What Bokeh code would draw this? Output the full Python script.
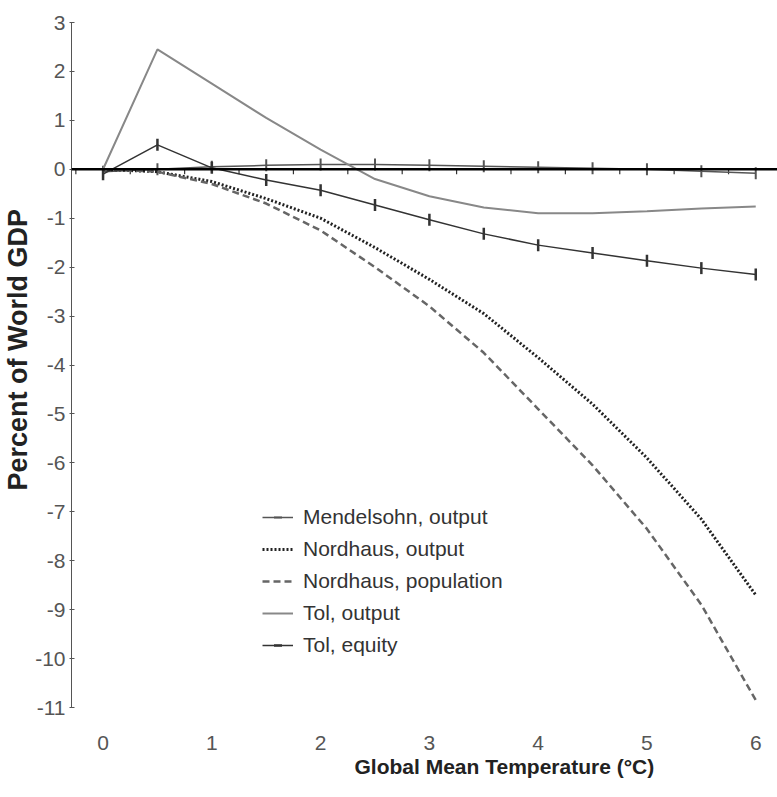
import math
from bokeh.plotting import figure
from bokeh.models import Span, Title, FixedTicker, Legend
from bokeh.embed import file_html
from bokeh.resources import INLINE

# Global mean temperature (°C)
temps = [0, 0.5, 1, 1.5, 2, 2.5, 3, 3.5, 4, 4.5, 5, 5.5, 6]

# Percent of world GDP
mendelsohn_output = [-0.05, 0.0, 0.05, 0.08, 0.1, 0.1, 0.08, 0.06, 0.04, 0.02, 0.0, -0.04, -0.08]
nordhaus_output = [0.0, -0.05, -0.25, -0.6, -1.0, -1.6, -2.25, -2.95, -3.85, -4.8, -5.9, -7.15, -8.7]
nordhaus_population = [0.0, -0.05, -0.3, -0.7, -1.25, -2.0, -2.8, -3.75, -4.9, -6.05, -7.35, -8.9, -10.85]
tol_output = [0.0, 2.45, 1.75, 1.05, 0.4, -0.2, -0.55, -0.78, -0.9, -0.9, -0.86, -0.8, -0.76]
tol_equity = [-0.1, 0.5, 0.03, -0.22, -0.43, -0.73, -1.03, -1.32, -1.55, -1.71, -1.87, -2.02, -2.15]

x_tick_labels = [0, 1, 2, 3, 4, 5, 6]
y_tick_values = list(range(-11, 4))

FONT = "Liberation Sans"

p = figure(
    frame_width=706, frame_height=685,
    x_range=(-0.29, 6.2), y_range=(-11, 3),
    output_backend="svg", toolbar_location=None,
    min_border_left=69, min_border_right=0, min_border_top=22, min_border_bottom=88,
    background_fill_color="white", border_fill_color="white",
)
p.outline_line_color = None
p.xgrid.visible = False
p.ygrid.visible = False

# x axis: labels only (axis line is drawn at zero)
p.xaxis.ticker = FixedTicker(ticks=x_tick_labels)
p.xaxis.axis_line_color = None
p.xaxis.major_tick_line_color = None
p.xaxis.minor_tick_line_color = None
p.xaxis.major_label_text_font = FONT
p.xaxis.major_label_text_font_size = "21px"
p.xaxis.major_label_text_color = "#555555"
p.xaxis.major_label_standoff = 22

# y axis
p.yaxis.ticker = FixedTicker(ticks=y_tick_values)
p.yaxis.major_label_overrides = {v: str(v) for v in y_tick_values}
p.yaxis.axis_line_color = "#555555"
p.yaxis.axis_line_width = 1
p.yaxis.major_tick_line_color = "#555555"
p.yaxis.major_tick_in = 3
p.yaxis.major_tick_out = 2
p.yaxis.minor_tick_line_color = None
p.yaxis.major_label_text_font = FONT
p.yaxis.major_label_text_font_size = "21px"
p.yaxis.major_label_text_color = "#555555"
p.yaxis.major_label_standoff = 4

# zero axis line with category ticks
p.add_layout(Span(location=0, dimension="width", line_color="black", line_width=2.5))
tick_pos = [t + 0.25 for t in temps[:-1]] + [temps[0] - 0.25]
p.segment(x0=tick_pos, y0=[0] * len(tick_pos), x1=tick_pos, y1=[-0.1] * len(tick_pos),
          line_color="#333333", line_width=1.2)

# series
r_m_line = p.line(temps, mendelsohn_output, line_color="#555555", line_width=1.5)
r_m_pts = p.scatter(temps, mendelsohn_output, marker="dash", angle=math.pi / 2, size=12,
                    line_color="#555555", line_width=2)
r_no = p.line(temps, nordhaus_output, line_color="#222222", line_width=3, line_dash="2 2")
r_np = p.line(temps, nordhaus_population, line_color="#666666", line_width=2.5, line_dash="7 4")
r_to = p.line(temps, tol_output, line_color="#888888", line_width=2)
r_te_line = p.line(temps, tol_equity, line_color="#333333", line_width=1.5)
r_te_pts = p.scatter(temps, tol_equity, marker="dash", angle=math.pi / 2, size=12,
                     line_color="#333333", line_width=2.5)

legend = Legend(
    items=[
        ("Mendelsohn, output", [r_m_line, r_m_pts]),
        ("Nordhaus, output", [r_no]),
        ("Nordhaus, population", [r_np]),
        ("Tol, output", [r_to]),
        ("Tol, equity", [r_te_line, r_te_pts]),
    ],
    location=(191, 50),
    background_fill_alpha=0, border_line_color=None,
    padding=0, margin=0, spacing=8,
    glyph_width=31, glyph_height=20, label_height=20, label_standoff=10,
    label_text_font=FONT, label_text_font_size="21px", label_text_color="#333333",
)
p.add_layout(legend)

# axis titles
p.add_layout(Title(text="Global Mean Temperature (°C)", align="left", offset=283, standoff=0,
                   text_font=FONT, text_font_size="21px", text_font_style="bold",
                   text_color="#222222"), "below")
p.add_layout(Title(text="Percent of World GDP", align="left", offset=217, standoff=0,
                   text_font=FONT, text_font_size="27px", text_font_style="bold",
                   text_color="#222222"), "left")

open("out.html", "w").write(file_html(p, INLINE))
